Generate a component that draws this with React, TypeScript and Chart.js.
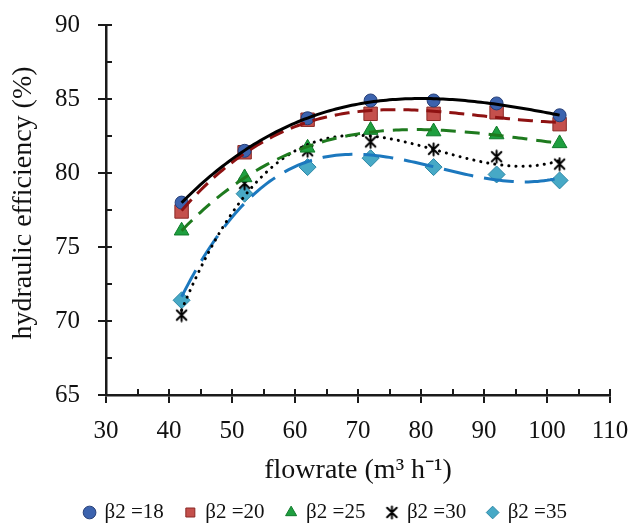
import React, { useEffect, useRef } from "react";
import { Chart, registerables } from "chart.js";

Chart.register(...registerables);

// ---- data ----
const flowrate = [42, 52, 62, 72, 82, 92, 102];
const beta18 = [78.0, 81.5, 83.7, 84.9, 84.9, 84.7, 83.9];
const beta20 = [77.4, 81.4, 83.6, 84.0, 84.0, 84.1, 83.3];
const beta25 = [76.1, 79.7, 81.7, 82.9, 82.8, 82.6, 82.0];
const beta30 = [70.4, 79.3, 81.5, 82.1, 81.6, 81.1, 80.6];
const beta35 = [71.4, 78.6, 80.4, 81.0, 80.4, 79.9, 79.5];
const seriesLabels = ["β2 =18", "β2 =20", "β2 =25", "β2 =30", "β2 =35"];
const xMin = 30, xMax = 110, xStep = 10;
const yMin = 65, yMax = 90, yStep = 5;
const xTitle = "flowrate (m³ h⁻¹)";
const yTitle = "  hydraulic efficiency (%)";

const FONT = '"Liberation Serif", "Times New Roman", serif';

// least-squares polynomial trendline (like Excel's polynomial trendline)
function polyFit(xs: number[], ys: number[], deg: number) {
  const n = deg + 1;
  const c = (xs[0] + xs[xs.length - 1]) / 2;
  const s = (xs[xs.length - 1] - xs[0]) / 2;
  const A: number[][] = Array.from({ length: n }, () => new Array(n + 1).fill(0));
  for (let k = 0; k < xs.length; k++) {
    const u = (xs[k] - c) / s;
    const p: number[] = [];
    for (let i = 0; i < n; i++) p.push(Math.pow(u, i));
    for (let i = 0; i < n; i++) {
      for (let j = 0; j < n; j++) A[i][j] += p[i] * p[j];
      A[i][n] += p[i] * ys[k];
    }
  }
  for (let i = 0; i < n; i++) {
    let m = i;
    for (let r = i + 1; r < n; r++) if (Math.abs(A[r][i]) > Math.abs(A[m][i])) m = r;
    [A[i], A[m]] = [A[m], A[i]];
    for (let r = 0; r < n; r++) {
      if (r === i) continue;
      const f = A[r][i] / A[i][i];
      for (let col = i; col <= n; col++) A[r][col] -= f * A[i][col];
    }
  }
  const coef = A.map((row, i) => row[n] / row[i]);
  return (x: number) => {
    const u = (x - c) / s;
    let v = 0;
    for (let i = 0; i < n; i++) v += coef[i] * Math.pow(u, i);
    return v;
  };
}

function trend(ys: number[], deg: number) {
  const f = polyFit(flowrate, ys, deg);
  const pts: { x: number; y: number }[] = [];
  const x0 = flowrate[0], x1 = flowrate[flowrate.length - 1];
  for (let x = x0; x <= x1 + 1e-9; x += 0.5) pts.push({ x, y: f(x) });
  return pts;
}

function makeAsterisk(size: number) {
  const cv = document.createElement("canvas");
  cv.width = size;
  cv.height = size;
  const g = cv.getContext("2d")!;
  const c = size / 2, r = size / 2 - 1.5;
  g.strokeStyle = "#000";
  g.lineWidth = 2;
  g.lineCap = "round";
  g.beginPath();
  g.moveTo(c - r * 0.8, c - r * 0.8); g.lineTo(c + r * 0.8, c + r * 0.8);
  g.moveTo(c + r * 0.8, c - r * 0.8); g.lineTo(c - r * 0.8, c + r * 0.8);
  g.moveTo(c, c - r); g.lineTo(c, c + r);
  g.stroke();
  return cv;
}

const innerTicks = {
  id: "innerTicks",
  afterDraw(chart: any) {
    const { ctx, chartArea } = chart;
    const xs = chart.scales.x, ys = chart.scales.y;
    ctx.save();
    ctx.strokeStyle = "#1a1a1a";
    ctx.lineWidth = 2;
    ctx.beginPath();
    for (let v = xMin; v <= xMax + 1e-9; v += xStep / 2) {
      const px = Math.round(xs.getPixelForValue(v));
      ctx.moveTo(px, chartArea.bottom);
      ctx.lineTo(px, chartArea.bottom - 6);
    }
    for (let v = yMin; v <= yMax + 1e-9; v += yStep / 2) {
      const py = Math.round(ys.getPixelForValue(v));
      ctx.moveTo(chartArea.left, py);
      ctx.lineTo(chartArea.left + 6, py);
    }
    ctx.stroke();
    ctx.restore();
  },
};

export default function App() {
  const ref = useRef<HTMLCanvasElement | null>(null);

  useEffect(() => {
    if (!ref.current) return;
    const star = makeAsterisk(15);
    const pts = (ys: number[]) => flowrate.map((x, i) => ({ x, y: ys[i] }));
    const markerSets = [
      { data: beta18, style: "circle", r: 6.5, bg: "#3C63AE", bd: "#263F78" },
      { data: beta20, style: "rect", r: 9.5, bg: "#C4504C", bd: "#8A2926" },
      { data: beta25, style: "triangle", r: 8.5, bg: "#1E9F3F", bd: "#0F7A2A" },
      { data: beta30, style: star, r: 7, bg: "#000", bd: "#000" },
      { data: beta35, style: "rectRot", r: 8.5, bg: "#47A9C6", bd: "#2C87A6" },
    ];
    const lineSets = [
      { data: beta18, deg: 3, color: "#000000", dash: [] as number[], cap: "butt" },
      { data: beta20, deg: 3, color: "#8E1212", dash: [15, 8], cap: "butt" },
      { data: beta25, deg: 3, color: "#1E7A1E", dash: [15, 9], cap: "butt" },
      { data: beta30, deg: 3, color: "#000000", dash: [0.1, 7], cap: "round" },
      { data: beta35, deg: 3, color: "#1C78BE", dash: [30, 11], cap: "butt" },
    ];
    const datasets: any[] = [];
    markerSets.forEach((m, i) => {
      datasets.push({
        label: seriesLabels[i],
        data: pts(m.data),
        showLine: false,
        pointStyle: m.style,
        pointRadius: m.r,
        pointBackgroundColor: m.bg,
        pointBorderColor: m.bd,
        pointBorderWidth: 1,
        backgroundColor: m.bg,
        borderColor: m.bd,
        order: 1,
      });
    });
    lineSets.forEach((l, i) => {
      datasets.push({
        label: "trend " + seriesLabels[i],
        data: trend(l.data, l.deg),
        showLine: true,
        pointRadius: 0,
        borderColor: l.color,
        borderWidth: 3,
        borderDash: l.dash,
        borderCapStyle: l.cap,
        tension: 0,
        fill: false,
        order: 0,
      });
    });

    const chart = new Chart(ref.current, {
      type: "line",
      data: { datasets },
      plugins: [innerTicks],
      options: {
        responsive: false,
        animation: false,
        events: [],
        layout: { padding: { left: 42, right: 22, top: 25, bottom: -9 } },
        plugins: {
          tooltip: { enabled: false },
          title: { display: false },
          legend: {
            display: true,
            position: "bottom",
            labels: {
              usePointStyle: true,
              boxWidth: 9,
              boxHeight: 9,
              padding: 22,
              color: "#111",
              font: { family: FONT, size: 21 },
              filter: (item: any) => item.datasetIndex < 5,
            },
          },
        },
        scales: {
          x: {
            type: "linear",
            min: xMin,
            max: xMax,
            afterFit: (s: any) => { s.height = 85; s.paddingLeft = 0; s.paddingRight = 0; },
            ticks: { stepSize: xStep, color: "#111", padding: 13, font: { family: FONT, size: 25 } },
            grid: { display: true, drawOnChartArea: false, drawTicks: true, tickLength: 8, color: "#1a1a1a", lineWidth: 2 },
            border: { display: true, color: "#1a1a1a", width: 2.5 },
            title: { display: true, text: xTitle, color: "#111", padding: { top: 0, bottom: -7 }, font: { family: FONT, size: 28 } },
          },
          y: {
            type: "linear",
            min: yMin,
            max: yMax,
            afterFit: (s: any) => { s.width = 64; s.paddingTop = 0; s.paddingBottom = 0; },
            ticks: { stepSize: yStep, color: "#111", padding: 18, font: { family: FONT, size: 25 } },
            grid: { display: true, drawOnChartArea: false, drawTicks: true, tickLength: 8, color: "#1a1a1a", lineWidth: 2 },
            border: { display: true, color: "#1a1a1a", width: 2.5 },
            title: { display: true, text: yTitle, color: "#111", padding: { top: -35, bottom: 0 }, font: { family: FONT, size: 28 } },
          },
        },
      } as any,
    });
    return () => chart.destroy();
  }, []);

  return (
    <div style={{ position: "absolute", left: 0, top: 0, width: 632, height: 524, background: "#fff" }}>
      <canvas ref={ref} width={632} height={524} style={{ width: 632, height: 524, display: "block" }} />
    </div>
  );
}
